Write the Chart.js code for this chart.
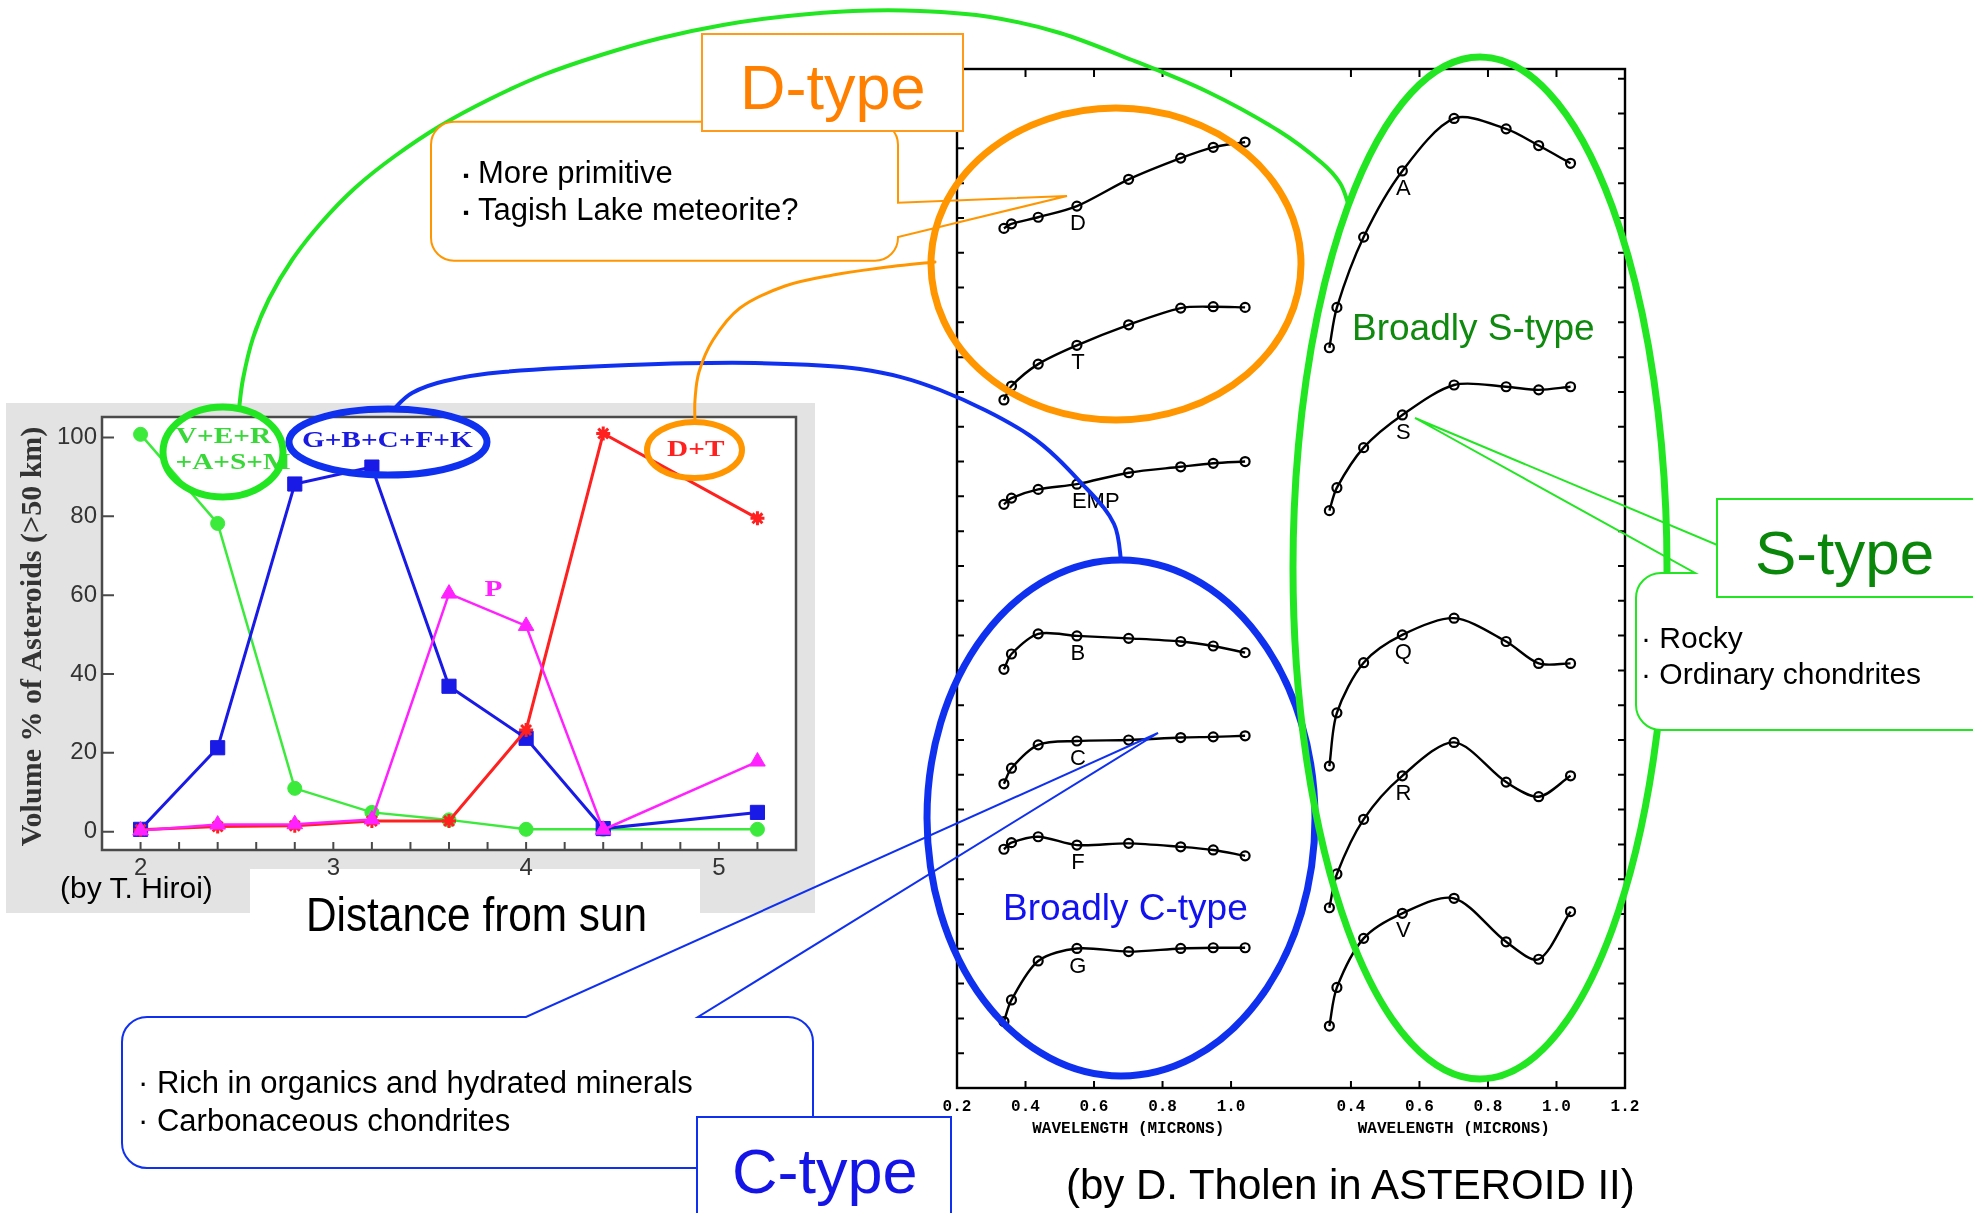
<!DOCTYPE html>
<html>
<head>
<meta charset="utf-8">
<title>Asteroid taxonomy vs. distance from sun</title>
<script src="https://cdn.jsdelivr.net/npm/chart.js@4.4.1/dist/chart.umd.min.js"></script>
<style>
  html, body { margin:0; padding:0; background:#ffffff; }
  body { width:1973px; height:1213px; position:relative; overflow:hidden; font-family:"Liberation Sans", Arial, sans-serif; }
  .layer { position:absolute; left:0; top:0; }
  #grayPanel { position:absolute; left:6px; top:403px; width:809px; height:510px; background:#e3e3e3; }
  #capBox { position:absolute; left:250px; top:869px; width:450px; height:80px; background:#ffffff; }
</style>
</head>
<body>
<div id="grayPanel"></div>
<div id="capBox"></div>
<canvas id="hiroiChart" class="layer" width="1973" height="1213"></canvas>
<canvas id="tholenChart" class="layer" width="1973" height="1213"></canvas>

<svg id="ann" class="layer" width="1973" height="1213" xmlns="http://www.w3.org/2000/svg" font-family="Liberation Sans, Arial, sans-serif">
  <g fill="none" stroke-linecap="round">
    <path id="greenArc" stroke="#22e622" stroke-width="4"/>
    <path id="blueArc" stroke="#1030f0" stroke-width="4"/>
    <path id="orangeArc" stroke="#ff9600" stroke-width="3"/>
    <ellipse cx="223" cy="452" rx="60" ry="45" stroke="#22e622" stroke-width="7"/>
    <ellipse cx="388" cy="442" rx="99" ry="33" stroke="#1030f0" stroke-width="7"/>
    <ellipse cx="694.5" cy="450" rx="47.5" ry="28" stroke="#ff9600" stroke-width="6"/>
    <ellipse cx="1116" cy="264" rx="185" ry="156" stroke="#ff9600" stroke-width="7"/>
    <ellipse cx="1121" cy="818" rx="194" ry="258" stroke="#1030f0" stroke-width="7"/>
    <ellipse cx="1480" cy="568" rx="187" ry="511" stroke="#22e622" stroke-width="7"/>
  </g>

  <!-- D-type callout -->
  <rect x="431" y="121.7" width="467" height="139" rx="23" fill="#ffffff"/>
  <path d="M454,121.7 H875 A23,23 0 0 1 898,144.7 V202.7 L1067,196 L898,237 A23,23 0 0 1 875,260.7 H454 A23,23 0 0 1 431,237.7 V144.7 A23,23 0 0 1 454,121.7 Z" fill="none" stroke="#ff9600" stroke-width="2"/>
  <text x="463" y="181" font-size="17" fill="#000">▪</text>
  <text x="478" y="183" font-size="31" fill="#000">More primitive</text>
  <text x="463" y="218" font-size="17" fill="#000">▪</text>
  <text x="478" y="220" font-size="31" fill="#000">Tagish Lake meteorite?</text>
  <rect x="702" y="34" width="261" height="97" fill="#ffffff" stroke="#ff9a1a" stroke-width="2"/>
  <text x="740" y="109" font-size="63" fill="#ff8000">D-type</text>

  <!-- S-type callout -->
  <rect x="1636" y="573" width="360" height="157" rx="25" fill="#ffffff"/>
  <path d="M1784,573 L1415,418 L1695,573 H1661 A25,25 0 0 0 1636,598 V705 A25,25 0 0 0 1661,730 H2000" fill="none" stroke="#22e622" stroke-width="2"/>
  <text x="1641" y="648" font-size="30" fill="#000">· Rocky</text>
  <text x="1641" y="684" font-size="30" fill="#000">· Ordinary chondrites</text>
  <rect x="1717" y="499" width="270" height="98" fill="#ffffff" stroke="#22e622" stroke-width="2"/>
  <text x="1755" y="574" font-size="62" fill="#0a870a">S-type</text>

  <!-- C-type callout -->
  <rect x="122" y="1017" width="691" height="151" rx="25" fill="#ffffff"/>
  <path d="M147,1017 H526 L1158,733 L698,1017 H788 A25,25 0 0 1 813,1042 V1143 A25,25 0 0 1 788,1168 H147 A25,25 0 0 1 122,1143 V1042 A25,25 0 0 1 147,1017 Z" fill="none" stroke="#1030f0" stroke-width="2"/>
  <text x="138" y="1093" font-size="31" fill="#000">· Rich in organics and hydrated minerals</text>
  <text x="138" y="1131" font-size="31" fill="#000">· Carbonaceous chondrites</text>
  <rect x="697" y="1117" width="254" height="110" fill="#ffffff" stroke="#1030f0" stroke-width="2"/>
  <text x="732" y="1193" font-size="63" fill="#1414e6">C-type</text>

  <!-- free texts -->
  <text x="1352" y="340" font-size="37" fill="#0f8a0f">Broadly S-type</text>
  <text x="1003" y="920" font-size="37" fill="#1212f0">Broadly C-type</text>
  <text x="60" y="898" font-size="30" fill="#000">(by T. Hiroi)</text>
  <text x="306" y="931" font-size="48" fill="#000" textLength="341" lengthAdjust="spacingAndGlyphs">Distance from sun</text>
  <text x="1066" y="1199" font-size="42" fill="#000">(by D. Tholen in ASTEROID II)</text>
</svg>

<script>
// ===================== DATA: heliocentric distribution (T. Hiroi) =====================
const distanceAU   = [2.0, 2.4, 2.8, 3.2, 3.6, 4.0, 4.4, 5.2];
const volVERASM    = [100.8, 78.2, 11.0, 4.9, 3.0, 0.6, 0.6, 0.6];   // V+E+R+A+S+M
const volGBCFK     = [0.6, 21.3, 88.2, 92.5, 36.9, 23.7, 0.8, 4.9];   // G+B+C+F+K
const volP         = [0.3, 1.8, 1.9, 3.1, 60.4, 52.2, 0.5, 17.8];     // P
const volDT        = [0.5, 1.3, 1.5, 2.7, 2.7, 25.8, 101.0, 79.5];    // D+T
const groupNames   = ['V+E+R', '+A+S+M', 'G+B+C+F+K', 'P', 'D+T'];
const distTickValues = [2.0, 2.2, 2.4, 2.6, 2.8, 3.0, 3.2, 3.4, 3.6, 3.8, 4.0, 4.2, 4.4, 4.6, 4.8, 5.0, 5.2];
const volTickValues  = [0, 20, 40, 60, 80, 100];
const volAxisTitle   = 'Volume % of Asteroids (>50 km)';

// ===================== DATA: reflectance spectra (D. Tholen) =====================
const wavelengths = [0.337, 0.359, 0.437, 0.550, 0.701, 0.853, 0.948, 1.041];
const specD   = [24.70, 24.83, 25.02, 25.34, 26.11, 26.72, 27.03, 27.18];
const specT   = [19.77, 20.17, 20.80, 21.34, 21.93, 22.41, 22.45, 22.43];
const specEMP = [16.77, 16.95, 17.20, 17.35, 17.68, 17.85, 17.95, 18.00];
const specB   = [12.03, 12.47, 13.05, 12.99, 12.92, 12.83, 12.70, 12.51];
const specC   = [8.74, 9.19, 9.86, 9.97, 10.00, 10.07, 10.09, 10.12];
const specF   = [6.86, 7.05, 7.22, 6.98, 7.03, 6.93, 6.84, 6.67];
const specG   = [1.91, 2.53, 3.65, 4.01, 3.92, 4.01, 4.03, 4.03];
const specA   = [21.27, 22.43, 24.45, 26.35, 27.86, 27.56, 27.08, 26.57];
const specS   = [16.59, 17.25, 18.40, 19.34, 20.20, 20.15, 20.06, 20.15];
const specQ   = [9.25, 10.78, 12.22, 13.02, 13.50, 12.83, 12.20, 12.20];
const specR   = [5.18, 6.15, 7.72, 8.97, 9.93, 8.79, 8.37, 8.97];
const specV   = [1.78, 2.89, 4.30, 5.02, 5.45, 4.20, 3.70, 5.07];
const leftPanelNames  = ['D', 'T', 'EMP', 'B', 'C', 'F', 'G'];
const rightPanelNames = ['A', 'S', 'Q', 'R', 'V'];
const waveTicksLeft  = [0.2, 0.4, 0.6, 0.8, 1.0];
const waveTicksRight = [0.4, 0.6, 0.8, 1.0, 1.2];
const waveAxisTitle  = 'WAVELENGTH (MICRONS)';
const panelOffset = 0.95;   // right panel is drawn shifted along the shared x scale

// ===================== CHART 1 : volume % vs distance =====================
const W = 1973, H = 1213;
const area1 = { left: 102, top: 417, right: 796, bottom: 850 };
const yBox1 = 60, xBox1 = 40;

const hiroiDecor = {
  id: 'hiroiDecor',
  beforeDraw(chart) {
    const { ctx, chartArea: a } = chart;
    ctx.save();
    ctx.fillStyle = '#ffffff';
    ctx.fillRect(a.left, a.top, a.right - a.left, a.bottom - a.top);
    ctx.restore();
  },
  beforeDatasetsDraw(chart) {
    const { ctx, chartArea: a, scales: { x, y } } = chart;
    ctx.save();
    ctx.strokeStyle = '#4a4a4a';
    ctx.lineWidth = 2.5;
    ctx.strokeRect(a.left, a.top, a.right - a.left, a.bottom - a.top);
    ctx.lineWidth = 2;
    ctx.beginPath();
    x.ticks.forEach(t => { const px = x.getPixelForValue(t.value); ctx.moveTo(px, a.bottom); ctx.lineTo(px, a.bottom - 8); });
    y.ticks.forEach(t => { const py = y.getPixelForValue(t.value); ctx.moveTo(a.left, py); ctx.lineTo(a.left + 12, py); });
    ctx.stroke();
    ctx.restore();
  },
  afterDraw(chart) {
    const { ctx, scales: { x, y } } = chart;
    const put = (txt, xv, yv, color) => {
      ctx.save();
      ctx.translate(x.getPixelForValue(xv), y.getPixelForValue(yv));
      ctx.scale(1.22, 1);
      ctx.fillStyle = color;
      ctx.font = 'bold 24px "Liberation Serif", "Times New Roman", serif';
      ctx.textAlign = 'center';
      ctx.textBaseline = 'middle';
      ctx.fillText(txt, 0, 0);
      ctx.restore();
    };
    put(groupNames[0], 2.43, 100.1, '#38d838');
    put(groupNames[1], 2.48, 93.6, '#38d838');
    put(groupNames[2], 3.28, 99.1, '#1a1ae0');
    put(groupNames[3], 3.83, 61.3, '#ff22ff');
    put(groupNames[4], 4.88, 97.0, '#ff2020');
    // y axis title
    ctx.save();
    ctx.translate(33, (chart.chartArea.top + chart.chartArea.bottom) / 2 + 3);
    ctx.rotate(-Math.PI / 2);
    ctx.fillStyle = '#333333';
    ctx.font = 'bold 30px "Liberation Serif", "Times New Roman", serif';
    ctx.textAlign = 'center';
    ctx.textBaseline = 'middle';
    ctx.fillText(volAxisTitle, 0, 0);
    ctx.restore();
  }
};

const mk = (arr) => distanceAU.map((d, i) => ({ x: d, y: arr[i] }));

new Chart(document.getElementById('hiroiChart'), {
  type: 'line',
  data: {
    datasets: [
      { label: 'P', data: mk(volP), order: 1, borderColor: '#ff22ff', backgroundColor: '#ff22ff', borderWidth: 2.5,
        pointStyle: 'triangle', pointRadius: 9, pointBorderWidth: 1 },
      { label: 'D+T', data: mk(volDT), order: 2, borderColor: '#ff2020', backgroundColor: '#ff2020', borderWidth: 3,
        pointStyle: 'star', pointRadius: 7, pointBorderWidth: 3 },
      { label: 'G+B+C+F+K', data: mk(volGBCFK), order: 3, borderColor: '#1a1ae6', backgroundColor: '#1a1ae6', borderWidth: 3,
        pointStyle: 'rect', pointRadius: 10, pointBorderWidth: 1 },
      { label: 'V+E+R+A+S+M', data: mk(volVERASM), order: 4, borderColor: '#3cea3c', backgroundColor: '#3cea3c', borderWidth: 2.5,
        pointStyle: 'circle', pointRadius: 7, pointBorderWidth: 1 }
    ]
  },
  options: {
    responsive: false, animation: false, devicePixelRatio: 1,
    layout: { padding: { left: area1.left - yBox1, top: area1.top, right: W - area1.right, bottom: H - area1.bottom - xBox1 } },
    plugins: { legend: { display: false }, tooltip: { enabled: false } },
    elements: { line: { tension: 0 } },
    scales: {
      x: {
        type: 'linear', min: 1.8, max: 5.4,
        afterBuildTicks: s => { s.ticks = distTickValues.map(v => ({ value: v })); },
        afterFit: s => { s.height = xBox1; },
        grid: { display: false, drawTicks: false }, border: { display: false },
        ticks: {
          autoSkip: false, maxRotation: 0, minRotation: 0, padding: 4, color: '#333333',
          font: { family: 'Liberation Sans', size: 24 },
          callback: v => (Math.abs(v - Math.round(v)) < 1e-6 ? String(Math.round(v)) : '')
        }
      },
      y: {
        type: 'linear', min: -4.64, max: 105.2,
        afterBuildTicks: s => { s.ticks = volTickValues.map(v => ({ value: v })); },
        afterFit: s => { s.width = yBox1; },
        grid: { display: false, drawTicks: false }, border: { display: false },
        ticks: { autoSkip: false, padding: 5, color: '#333333', font: { family: 'Liberation Sans', size: 24 } }
      }
    }
  },
  plugins: [hiroiDecor]
});

// ===================== CHART 2 : Tholen spectra =====================
const area2 = { left: 957, top: 69, right: 1625, bottom: 1088 };
const xBox2 = 30;
const waveTickValues = waveTicksLeft.concat(waveTicksRight.map(v => v + panelOffset));
const waveTickLabels = waveTicksLeft.concat(waveTicksRight).map(v => v.toFixed(1));

const tholenDecor = {
  id: 'tholenDecor',
  afterDatasetsDraw(chart) {
    const { ctx, chartArea: a, scales: { x, y } } = chart;
    ctx.save();
    ctx.strokeStyle = '#000';
    ctx.lineWidth = 2.4;
    ctx.strokeRect(a.left, a.top, a.right - a.left, a.bottom - a.top);
    ctx.lineWidth = 2;
    ctx.beginPath();
    x.ticks.forEach(t => {
      if (t.value <= x.min + 1e-6 || t.value >= x.max - 1e-6) return;
      const px = x.getPixelForValue(t.value);
      ctx.moveTo(px, a.bottom); ctx.lineTo(px, a.bottom - 7);
      ctx.moveTo(px, a.top); ctx.lineTo(px, a.top + 8);
    });
    y.ticks.forEach(t => {
      const py = y.getPixelForValue(t.value);
      ctx.moveTo(a.left, py); ctx.lineTo(a.left + 7, py);
      ctx.moveTo(a.right, py); ctx.lineTo(a.right - 7, py);
    });
    ctx.stroke();
    // curve labels, under the 0.55 micron point
    ctx.fillStyle = '#000';
    ctx.font = '22px "Liberation Sans", Arial, sans-serif';
    ctx.textBaseline = 'middle';
    chart.data.datasets.forEach((ds, i) => {
      const p = chart.getDatasetMeta(i).data[3];
      if (ds.label === 'EMP') { ctx.textAlign = 'left'; ctx.fillText(ds.label, p.x - 5, p.y + 18); }
      else { ctx.textAlign = 'center'; ctx.fillText(ds.label, p.x + 1, p.y + 18); }
    });
    // axis titles (one per panel)
    ctx.font = 'bold 16px "Liberation Mono", "DejaVu Sans Mono", monospace';
    ctx.textAlign = 'center';
    ctx.fillText(waveAxisTitle, x.getPixelForValue(0.7), a.bottom + 41);
    ctx.fillText(waveAxisTitle, x.getPixelForValue(0.7 + panelOffset), a.bottom + 41);
    ctx.restore();
  }
};

const specStyle = {
  borderColor: '#000', borderWidth: 2.4, tension: 0.3,
  pointStyle: 'circle', pointRadius: 4.5, pointBorderWidth: 2.2,
  pointBorderColor: '#000', pointBackgroundColor: 'rgba(255,255,255,0)'
};
const leftSpectra  = [specD, specT, specEMP, specB, specC, specF, specG];
const rightSpectra = [specA, specS, specQ, specR, specV];
const specDatasets = leftPanelNames.map((n, i) => Object.assign({
    label: n, data: wavelengths.map((w, j) => ({ x: w, y: leftSpectra[i][j] })) }, specStyle))
  .concat(rightPanelNames.map((n, i) => Object.assign({
    label: n, data: wavelengths.map((w, j) => ({ x: w + panelOffset, y: rightSpectra[i][j] })) }, specStyle)));

new Chart(document.getElementById('tholenChart'), {
  type: 'line',
  data: { datasets: specDatasets },
  options: {
    responsive: false, animation: false, devicePixelRatio: 1,
    layout: { padding: { left: area2.left, top: area2.top, right: W - area2.right, bottom: H - area2.bottom - xBox2 } },
    plugins: { legend: { display: false }, tooltip: { enabled: false } },
    scales: {
      x: {
        type: 'linear', min: 0.2, max: 1.2 + panelOffset,
        afterBuildTicks: s => { s.ticks = waveTickValues.map(v => ({ value: v })); },
        afterFit: s => { s.height = xBox2; },
        grid: { display: false, drawTicks: false }, border: { display: false },
        ticks: {
          autoSkip: false, maxRotation: 0, minRotation: 0, padding: 9, color: '#000',
          font: { family: 'Liberation Mono', size: 16, weight: 'bold' },
          callback: (v, i) => waveTickLabels[i]
        }
      },
      y: {
        type: 'linear', min: 0, max: 29.28,
        afterBuildTicks: s => { s.ticks = Array.from({ length: 29 }, (_, i) => ({ value: i + 1 })); },
        afterFit: s => { s.width = 0; },
        grid: { display: false, drawTicks: false }, border: { display: false },
        ticks: { display: false }
      }
    }
  },
  plugins: [tholenDecor]
});

// ===================== annotation connectors =====================
function smoothPath(pts) {
  let d = 'M' + pts[0][0] + ',' + pts[0][1];
  for (let i = 0; i < pts.length - 1; i++) {
    const p0 = pts[Math.max(i - 1, 0)], p1 = pts[i], p2 = pts[i + 1], p3 = pts[Math.min(i + 2, pts.length - 1)];
    const c1 = [p1[0] + (p2[0] - p0[0]) / 6, p1[1] + (p2[1] - p0[1]) / 6];
    const c2 = [p2[0] - (p3[0] - p1[0]) / 6, p2[1] - (p3[1] - p1[1]) / 6];
    d += ' C' + c1[0].toFixed(1) + ',' + c1[1].toFixed(1) + ' ' + c2[0].toFixed(1) + ',' + c2[1].toFixed(1) + ' ' + p2[0] + ',' + p2[1];
  }
  return d;
}
document.getElementById('greenArc').setAttribute('d', smoothPath([
  [239,409],[243,379],[253,338],[269,299],[292,260],[321,223],[355,188],[395,156],[440,126],[490,99],
  [543,75],[601,55],[661,38],[723,25],[788,16],[853,11],[920,11],[990,17],[1060,33],[1132,60],
  [1208,92],[1279,131],[1322,163],[1340,183],[1348,203]]));
document.getElementById('blueArc').setAttribute('d', smoothPath([
  [394,409],[412,393],[445,381],[503,372],[629,365],[755,363],[860,369],[940,390],[1029,435],
  [1087,489],[1114,524],[1121,560]]));
document.getElementById('orangeArc').setAttribute('d', smoothPath([
  [695,422],[695,400],[699,372],[713,340],[740,308],[785,286],[833,275],[880,268],[935,262]]));
</script>
</body>
</html>
